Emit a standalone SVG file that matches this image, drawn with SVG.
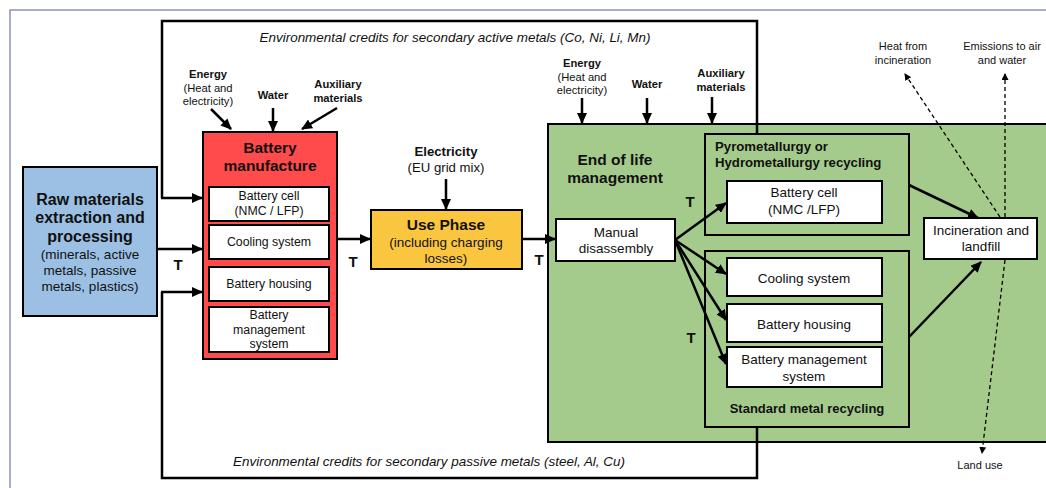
<svg xmlns="http://www.w3.org/2000/svg" width="1046" height="488" viewBox="0 0 1046 488">
<defs>
<marker id="ah" markerUnits="userSpaceOnUse" markerWidth="11" markerHeight="10" refX="10" refY="5" orient="auto">
<path d="M0,0 L11,5 L0,10 Z" fill="#000"/>
</marker>
<marker id="ahs" markerUnits="userSpaceOnUse" markerWidth="7" markerHeight="7" refX="6" refY="3.5" orient="auto">
<path d="M0,0 L7,3.5 L0,7 Z" fill="#000"/>
</marker>
<style>
text{font-family:"Liberation Sans",Arial,sans-serif;fill:#111;text-anchor:middle}
.b{font-weight:bold}
.it{font-style:italic;font-size:13.5px}
.h1{font-size:16px;font-weight:bold}
.h2{font-size:15.5px;font-weight:bold}
.s{font-size:13.5px}
.sm{font-size:12.3px}
.lab{font-size:11.2px}
.tl{font-size:11px}
.T{font-size:15px;font-weight:bold}
.box{stroke:#000;stroke-width:2}
.wb{fill:#fff;stroke:#000;stroke-width:2}
.ar{fill:none;stroke:#000;stroke-width:2.5;marker-end:url(#ah)}
.ln{fill:none;stroke:#000;stroke-width:2.5}
.da{fill:none;stroke:#000;stroke-width:1.3;stroke-dasharray:4,3;marker-end:url(#ahs)}
</style>
</defs>
<rect x="0" y="0" width="1046" height="488" fill="#fff"/>
<rect x="10" y="10" width="1050" height="490" fill="none" stroke="#8a94b4" stroke-width="1.5"/>

<g id="eol">
<rect class="box" x="548" y="124" width="510" height="318" fill="#a5cb8c"/>
<text class="h2" x="615" y="164.5">End of life</text>
<text class="h2" x="615" y="182.5">management</text>
</g>

<g id="raw">
<rect class="box" x="23" y="167" width="134" height="149" fill="#9bc0e4"/>
<text class="h1" x="90" y="205">Raw materials</text>
<text class="h1" x="90" y="223">extraction and</text>
<text class="h1" x="90" y="242">processing</text>
<text class="s" x="90" y="259">(minerals, active</text>
<text class="s" x="90" y="275">metals, passive</text>
<text class="s" x="90" y="291">metals, plastics)</text>
</g>

<g id="manufacture">
<rect class="box" x="203" y="132" width="134" height="227" fill="#ff4b4b"/>
<text class="h2" x="270" y="153">Battery</text>
<text class="h2" x="270" y="171">manufacture</text>
<rect class="wb" x="209" y="187" width="120" height="34"/>
<text class="sm" x="269" y="200">Battery cell</text>
<text class="sm" x="269" y="215">(NMC / LFP)</text>
<rect class="wb" x="209" y="225" width="120" height="34"/>
<text class="sm" x="269" y="245.5">Cooling system</text>
<rect class="wb" x="209" y="267" width="120" height="34"/>
<text class="sm" x="269" y="287.5">Battery housing</text>
<rect class="wb" x="209" y="307" width="120" height="45"/>
<text class="sm" x="269" y="319">Battery</text>
<text class="sm" x="269" y="334">management</text>
<text class="sm" x="269" y="348">system</text>
</g>

<g id="use">
<rect class="box" x="371" y="210" width="151" height="59" fill="#fbc63f"/>
<text class="h2" x="446" y="229.5">Use Phase</text>
<text class="s" x="446" y="246.5">(including charging</text>
<text class="s" x="446" y="262.5">losses)</text>
</g>

<g id="manual">
<rect class="wb" x="556" y="219" width="119" height="42"/>
<text class="s" x="616" y="236.5">Manual</text>
<text class="s" x="616" y="252.5">disassembly</text>
</g>

<g id="pyro">
<rect class="box" x="705" y="134" width="204" height="101" fill="#a5cb8c"/>
<text class="b" x="715" y="150.5" style="font-size:13.2px;text-anchor:start">Pyrometallurgy or</text>
<text class="b" x="715" y="166.5" style="font-size:13.2px;text-anchor:start">Hydrometallurgy  recycling</text>
<rect class="wb" x="727" y="181" width="155" height="42"/>
<text class="s" x="804" y="196.5">Battery cell</text>
<text class="s" x="804" y="213.5">(NMC /LFP)</text>
</g>

<g id="standard">
<rect class="box" x="705" y="251" width="204" height="176" fill="#a5cb8c"/>
<rect class="wb" x="727" y="258" width="155" height="38"/>
<text class="s" x="804" y="282.5">Cooling system</text>
<rect class="wb" x="727" y="304" width="155" height="38"/>
<text class="s" x="804" y="328.5">Battery housing</text>
<rect class="wb" x="727" y="347" width="155" height="40"/>
<text class="s" x="804" y="363.5">Battery management</text>
<text class="s" x="804" y="380.5">system</text>
<text class="b" x="807" y="412.5" style="font-size:13px">Standard metal recycling</text>
</g>

<g id="incineration">
<rect class="wb" x="924" y="218" width="113" height="41"/>
<text class="s" x="981" y="234.5">Incineration and</text>
<text class="s" x="981" y="250.5">landfill</text>
</g>

<g id="labels">
<text class="it" x="455" y="42" textLength="391" lengthAdjust="spacingAndGlyphs">Environmental credits for secondary active metals (Co, Ni, Li, Mn)</text>
<text class="it" x="429" y="466" textLength="392" lengthAdjust="spacingAndGlyphs">Environmental credits for secondary passive metals (steel, Al, Cu)</text>
<text class="lab b" x="208" y="78">Energy</text>
<text class="lab" x="208" y="92">(Heat and</text>
<text class="lab" x="208" y="105">electricity)</text>
<text class="lab b" x="273" y="99">Water</text>
<text class="lab b" x="338" y="88">Auxiliary</text>
<text class="lab b" x="338" y="102">materials</text>
<text class="lab b" x="582" y="67">Energy</text>
<text class="lab" x="582" y="81">(Heat and</text>
<text class="lab" x="582" y="94">electricity)</text>
<text class="lab b" x="647" y="88">Water</text>
<text class="lab b" x="721" y="77">Auxiliary</text>
<text class="lab b" x="721" y="91">materials</text>
<text class="b" x="446" y="155.5" style="font-size:13.2px">Electricity</text>
<text x="446" y="171.5" style="font-size:13.2px">(EU grid mix)</text>
<text class="tl" x="903" y="50">Heat from</text>
<text class="tl" x="903" y="64">incineration</text>
<text class="tl" x="1002" y="50">Emissions to air</text>
<text class="tl" x="1002" y="64">and water</text>
<text class="tl" x="980" y="469">Land use</text>
<text class="T" x="178" y="270">T</text>
<text class="T" x="353" y="267">T</text>
<text class="T" x="539" y="265">T</text>
<text class="T" x="690" y="207">T</text>
<text class="T" x="691" y="343">T</text>
</g>

<g id="connectors">
<polyline class="ln" points="757,134 757,21 162,21 162,198"/>
<path class="ar" d="M161,198 H202"/>
<polyline class="ln" points="757,427 757,478 162,478 162,292"/>
<path class="ar" d="M161,292 H202"/>
<path class="ar" d="M157,249 H202"/>
<path class="ar" d="M211,109 L231,129"/>
<path class="ar" d="M273,108 V131"/>
<path class="ar" d="M337,108 L302,129"/>
<path class="ar" d="M446,179 V209"/>
<path class="ar" d="M582,98 V123"/>
<path class="ar" d="M647,98 V123"/>
<path class="ar" d="M712,97 V123"/>
<path class="ar" d="M337,239 H370"/>
<path class="ar" d="M522,239 H555"/>
<path class="ar" d="M675,240 L726,203"/>
<path class="ar" d="M675,240 L726,274"/>
<path class="ar" d="M675,240 L726,320"/>
<path class="ar" d="M675,240 L726,364"/>
<path class="ar" d="M909,185 L978,218"/>
<path class="ar" d="M909,337 L981,262"/>
<path class="da" d="M1000,217 L905,74"/>
<path class="da" d="M1005,217 V74"/>
<path class="da" d="M1005,260 L982,453"/>
</g>
</svg>
